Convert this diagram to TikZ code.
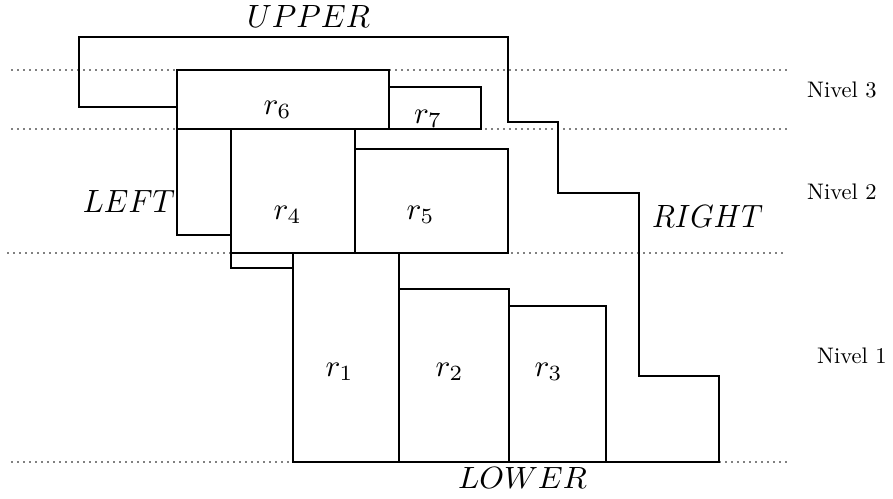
\documentclass[tikz,border=0pt]{standalone}
\usepackage{graphicx}
\begin{document}
\begin{tikzpicture}[x=1pt,y=-1pt,
  lvl/.style={line width=1.8pt, line cap=round, dash pattern=on 0pt off 6pt, black},
  edge/.style={line width=2pt, black, line join=miter},
  rbox/.style={edge, fill=white},
  rlab/.style={anchor=base, inner sep=0pt},
  blab/.style={anchor=base, inner sep=0pt},
  nlab/.style={anchor=base west, inner sep=0pt}]
\useasboundingbox (0,0) rectangle (893,498);
% level lines
\draw[lvl] (12,70) -- (786,70);
\draw[lvl] (12,129) -- (786,129);
\draw[lvl] (8,253) -- (786,253);
\draw[lvl] (12,462) -- (786,462);
% rectangles
\draw[rbox] (177,70) rectangle (389,129);
\draw[rbox] (389,87) rectangle (481,129);
\draw[rbox] (231,129) rectangle (355,253);
\draw[rbox] (355,149) rectangle (508,253);
\draw[rbox] (293,253) rectangle (399,462);
\draw[rbox] (399,289) rectangle (509,462);
\draw[rbox] (509,306) rectangle (606,462);
% boundaries
\draw[edge] (177,107) -- (79,107) -- (79,37) -- (508,37) -- (508,122) -- (558,122)
  -- (558,193) -- (639,193) -- (639,376) -- (719,376) -- (719,462) -- (606,462);
\draw[edge] (177,129) -- (177,235) -- (231,235);
\draw[edge] (231,253) -- (231,268) -- (293,268);
% rectangle labels
\node[rlab] (l1) at (339.5,376) {\scalebox{3.1}{$r_1$}};
\node[rlab] (l2) at (449.5,376) {\scalebox{3.1}{$r_2$}};
\node[rlab] (l3) at (548.5,376) {\scalebox{3.1}{$r_3$}};
\node[rlab] (l4) at (287.5,219) {\scalebox{3.1}{$r_4$}};
\node[rlab] (l5) at (420.5,219) {\scalebox{3.1}{$r_5$}};
\node[rlab] (l6) at (277.5,114) {\scalebox{3.1}{$r_6$}};
\node[rlab] (l7) at (428,123) {\scalebox{3.1}{$r_7$}};
% boundary labels
\node[blab] (up) at (308.5,27) {\resizebox{123pt}{22pt}{$UPPER$}};
\node[blab] (lf) at (129,212) {\resizebox{92pt}{22pt}{$LEFT$}};
\node[blab] (rt) at (707.5,227) {\resizebox{111pt}{22pt}{$RIGHT$}};
\node[blab] (lw) at (522.5,488) {\resizebox{129pt}{21pt}{$LOWER$}};
% level labels
\node[nlab] (n3) at (807,97) {\scalebox{2.25}{Nivel 3}};
\node[nlab] (n2) at (807,199) {\scalebox{2.25}{Nivel 2}};
\node[nlab] (n1) at (817,363) {\scalebox{2.25}{Nivel 1}};
\end{tikzpicture}
\end{document}
